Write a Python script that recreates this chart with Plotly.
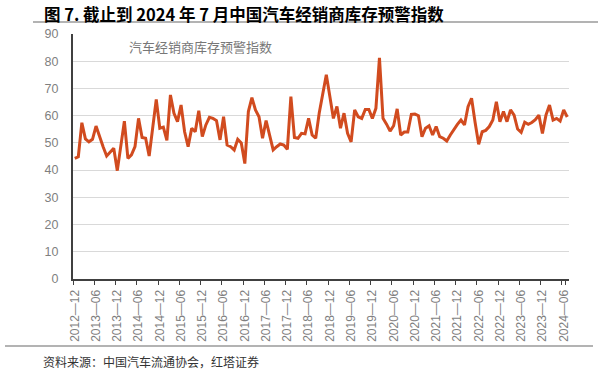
import plotly.graph_objects as go
import pandas as pd

# ---------------- data ----------------
title_text = "图 7. 截止到 2024 年 7 月中国汽车经销商库存预警指数"
series_name = "汽车经销商库存预警指数"
source_text = "资料来源：中国汽车流通协会，红塔证券"

start_month = "2012-12"
# monthly inventory warning index (%), 2012-12 .. 2024-07
index_values = [
    44.3,                                                              # 2012-12
    44.9, 57.4, 51.5, 50.4, 51.3, 56.2, 52.0, 48.6, 45.2, 46.8, 48.0, 39.8,  # 2013
    49.0, 58.0, 44.3, 45.6, 48.6, 59.0, 52.0, 51.7, 45.2, 56.0, 66.0, 55.4,  # 2014
    55.8, 50.9, 67.6, 60.9, 57.8, 63.9, 54.1, 48.6, 55.4, 54.1, 61.8, 52.3,  # 2015
    56.6, 59.4, 59.0, 58.2, 51.1, 59.6, 49.2, 48.6, 47.4, 51.3, 50.0, 42.4,  # 2016
    61.5, 66.6, 62.1, 59.6, 51.7, 58.2, 52.9, 47.4, 48.6, 49.6, 49.2, 47.6,  # 2017
    67.0, 52.0, 51.7, 53.5, 53.3, 59.0, 52.9, 51.7, 61.0, 68.0, 75.0, 67.0,  # 2018
    59.0, 63.4, 55.4, 60.9, 53.5, 50.4, 62.1, 59.6, 59.0, 62.3, 62.3, 59.0,  # 2019
    62.7, 81.2, 59.0, 56.9, 54.3, 56.3, 62.5, 52.9, 54.0, 54.0, 60.5, 60.6,  # 2020
    60.0, 52.3, 55.4, 56.3, 52.9, 56.0, 52.3, 51.7, 50.7, 52.9, 55.1, 56.8,  # 2021
    58.4, 56.6, 63.3, 66.4, 57.5, 49.5, 54.1, 54.6, 56.0, 58.4, 65.1, 57.8,  # 2022
    61.5, 57.8, 62.1, 60.2, 55.1, 53.9, 57.6, 56.8, 57.5, 58.5, 60.2, 53.5,  # 2023
    60.2, 63.9, 58.4, 59.0, 58.0, 62.1, 59.5,                              # 2024
]

tick_months = [
    "2012-12", "2013-06", "2013-12", "2014-06", "2014-12", "2015-06",
    "2015-12", "2016-06", "2016-12", "2017-06", "2017-12", "2018-06",
    "2018-12", "2019-06", "2019-12", "2020-06", "2020-12", "2021-06",
    "2021-12", "2022-06", "2022-12", "2023-06", "2023-12", "2024-06",
]
tick_text = [t.replace("-", "—") for t in tick_months]

y_ticks = [0, 10, 20, 30, 40, 50, 60, 70, 80, 90]

months = list(pd.period_range(start=start_month, periods=len(index_values), freq="M").strftime("%Y-%m"))

# ---------------- layout constants (pixels) ----------------
W, H = 604, 375
PL, PR, PT, PB = 73, 35, 34, 96
plot_w = W - PL - PR
plot_h = H - PT - PB

def px(xp):
    return (xp - PL) / plot_w

def py(yp):
    return (H - PB - yp) / plot_h

LINE_COLOR = "#D14B1F"
AXIS_COLOR = "#404040"
TICK_FONT = "Liberation Sans, Arial, sans-serif"
CJK_FONT = "Noto Sans CJK SC, sans-serif"

fig = go.Figure(
    go.Scatter(
        x=months,
        y=index_values,
        mode="lines",
        line=dict(color=LINE_COLOR, width=3),
        name=series_name,
        showlegend=False,
    )
)

fig.update_layout(
    width=W,
    height=H,
    margin=dict(l=PL, r=PR, t=PT, b=PB, pad=0),
    paper_bgcolor="white",
    plot_bgcolor="white",
)

fig.update_xaxes(
    type="category",
    range=[-0.5, len(index_values) - 0.5],
    tickmode="array",
    tickvals=tick_months,
    ticktext=tick_text,
    tickangle=-90,
    tickson="boundaries",
    ticks="outside",
    ticklen=4,
    tickwidth=1,
    tickcolor=AXIS_COLOR,
    showline=True,
    linecolor=AXIS_COLOR,
    linewidth=2,
    showgrid=False,
    zeroline=False,
    ticklabelstandoff=4,
    tickfont=dict(family=TICK_FONT, size=12, color="#7F7F7F"),
)

fig.update_yaxes(
    range=[0, 90],
    tickmode="array",
    tickvals=y_ticks,
    showgrid=True,
    gridcolor="#D9D9D9",
    gridwidth=1,
    showline=True,
    linecolor=AXIS_COLOR,
    linewidth=2,
    zeroline=False,
    ticks="",
    ticklabelstandoff=10,
    tickfont=dict(family=TICK_FONT, size=12.5, color="#7F7F7F"),
)

# separators (title rule and source rule)
fig.add_shape(type="line", xref="paper", yref="paper",
              x0=px(33), x1=px(598), y0=py(22), y1=py(22),
              line=dict(color="#9A9A9A", width=1.5))
fig.add_shape(type="line", xref="paper", yref="paper",
              x0=px(5), x1=px(593), y0=py(346), y1=py(346),
              line=dict(color="#9A9A9A", width=1.5))

fig.add_annotation(text=f"<b>{title_text}</b>", xref="paper", yref="paper",
                   x=px(42), y=py(0), xanchor="left", yanchor="top",
                   showarrow=False, font=dict(family=CJK_FONT, size=16.5, color="#000000"))
fig.add_annotation(text=series_name, xref="paper", yref="paper",
                   x=px(127), y=py(46.5), xanchor="left", yanchor="middle",
                   showarrow=False, font=dict(family=CJK_FONT, size=13, color="#777777"))
fig.add_annotation(text=source_text, xref="paper", yref="paper",
                   x=px(41), y=py(361), xanchor="left", yanchor="middle",
                   showarrow=False, font=dict(family=CJK_FONT, size=12, color="#333333"))

fig.write_html(
    "out.html",
    config={"displayModeBar": False, "staticPlot": True},
    post_script="document.body.style.margin='0';document.body.style.overflow='hidden';",
)
